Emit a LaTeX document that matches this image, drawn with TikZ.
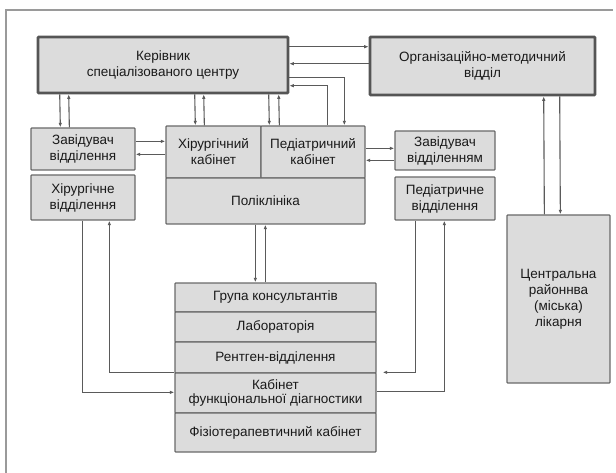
\documentclass[tikz,border=0pt]{standalone}
\usepackage{fontspec}
\setmainfont{Liberation Sans}
\usetikzlibrary{arrows.meta}
\definecolor{boxfill}{HTML}{DCDCDC}
\definecolor{boxline}{HTML}{6A6A6A}
\definecolor{thickline}{HTML}{555555}
\definecolor{conn}{HTML}{5A5A5A}
\definecolor{txt}{HTML}{1A1A1A}
\definecolor{frame}{HTML}{9A9A9A}
\begin{document}
\begin{tikzpicture}[x=1pt,y=-1pt,
  box/.style={draw=boxline,fill=boxfill,line width=1.3pt,inner sep=0pt,align=center,
    text=txt,font=\fontsize{13.5}{16}\selectfont,rounded corners=0.8pt},
  bigbox/.style={box,draw=thickline,line width=2.6pt},
  arr/.style={draw=conn,line width=1.1pt,-{Latex[length=4.5pt,width=3.5pt]}}]
\useasboundingbox (0,0) rectangle (616,473);
\draw[frame,line width=1.3pt] (6,473) -- (6,10) -- (613,10);
% boxes
\node[bigbox,minimum width=250pt,minimum height=56pt] (ker) at (163,65) {Керівник\\спеціалізованого центру};
\node[bigbox,minimum width=225pt,minimum height=58pt] (org) at (482.5,66) {Організаційно-методичний\\відділ};
\node[box,minimum width=104pt,minimum height=42pt] (zavL) at (83,149) {Завідувач\\відділення};
\node[box,minimum width=104pt,minimum height=45pt] (hirV) at (83,197.5) {Хірургічне\\відділення};
\node[box,minimum width=95pt,minimum height=52pt] (hirK) at (213.5,152) {Хірургічний\\кабінет};
\node[box,minimum width=104pt,minimum height=52pt] (pedK) at (313,152) {Педіатричний\\кабінет};
\node[box,minimum width=199pt,minimum height=46pt] (pol) at (265.5,201) {Поліклініка};
\node[box,minimum width=100pt,minimum height=39pt] (zavR) at (445,150.5) {Завідувач\\відділенням};
\node[box,minimum width=100pt,minimum height=43pt] (pedV) at (445,198.5) {Педіатричне\\відділення};
\node[box,minimum width=103pt,minimum height=168pt] (cen) at (558.5,299) {Центральна\\районнва\\(міська)\\лікарня};
\node[box,minimum width=201pt,minimum height=29pt] (gr) at (275.5,297.5) {Група консультантів};
\node[box,minimum width=201pt,minimum height=30pt] (lab) at (275.5,327) {Лабораторія};
\node[box,minimum width=201pt,minimum height=31pt] (rent) at (275.5,357.5) {Рентген-відділення};
\node[box,minimum width=201pt,minimum height=40pt,font=\fontsize{13.5}{14}\selectfont] (kab) at (275.5,393) {Кабінет\\функціональної діагностики};
\node[box,minimum width=201pt,minimum height=39pt] (fiz) at (275.5,432.5) {Фізіотерапевтичний кабінет};
% connectors
\draw[arr] ([xshift=23pt]ker.south west) -- ([xshift=30pt]zavL.north west);
\draw[arr] ([xshift=39pt]zavL.north west) -- ([xshift=32pt]ker.south west);
\draw[arr] ([yshift=-14pt]zavL.north east) -- ([yshift=-16pt]hirK.north west);
\draw[arr] ([yshift=-29pt]hirK.north west) -- ([yshift=-27pt]zavL.north east);
\draw[arr] ([xshift=158pt]ker.south west) -- ([xshift=30pt]hirK.north west);
\draw[arr] ([xshift=39pt]hirK.north west) -- ([xshift=167pt]ker.south west);
\draw[arr] ([xshift=232pt]ker.south west) -- ([xshift=9pt]pedK.north west);
\draw[arr] ([xshift=19pt]pedK.north west) -- ([xshift=242pt]ker.south west);
\draw[arr] ([yshift=-11pt]ker.north east) -- ([yshift=-11pt]org.north west);
\draw[arr] ([yshift=-28pt]org.north west) -- ([yshift=-28pt]ker.north east);
\draw[arr] ([yshift=-42pt]ker.north east) -| ([xshift=84pt]pedK.north west);
\draw[arr] ([xshift=67pt]pedK.north west) |- ([yshift=-50pt]ker.north east);
\draw[arr] ([yshift=-23pt]pedK.north east) -- ([yshift=-18pt]zavR.north west);
\draw[arr] ([yshift=-30pt]zavR.north west) -- ([yshift=-35pt]pedK.north east);
\draw[arr] ([xshift=38pt]cen.north west) -- ([xshift=175pt]org.south west);
\draw[arr] ([xshift=191pt]org.south west) -- ([xshift=54pt]cen.north west);
\draw[arr] ([xshift=90pt]pol.south west) -- ([xshift=81pt]gr.north west);
\draw[arr] ([xshift=91pt]gr.north west) -- ([xshift=100pt]pol.south west);
\draw[arr] ([xshift=52pt]hirV.south west) |- ([yshift=-20pt]kab.north west);
\draw[arr] (kab.north west) -| ([xshift=79pt]hirV.south west);
\draw[arr] ([xshift=21pt]pedV.south west) |- ([xshift=6pt]kab.north east);
\draw[arr] ([yshift=-19pt]kab.north east) -| ([xshift=50pt]pedV.south west);
\end{tikzpicture}
\end{document}
